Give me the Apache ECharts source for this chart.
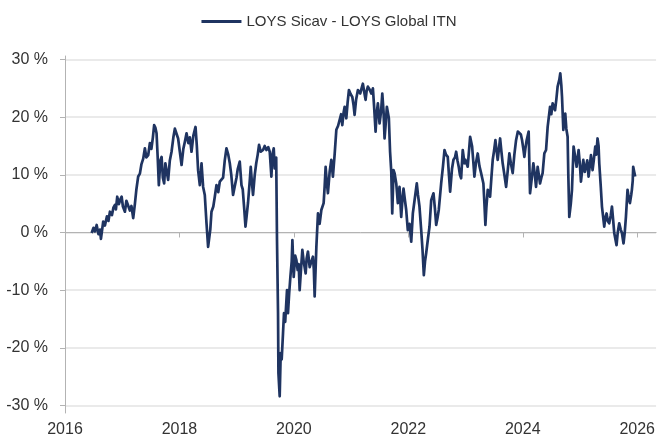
<!DOCTYPE html>
<html>
<head>
<meta charset="utf-8">
<script src="https://cdn.jsdelivr.net/npm/echarts@6/dist/echarts.min.js"></script>
<style>
html,body{margin:0;padding:0;background:#fff;}
#chart{width:658px;height:438px;}
</style>
</head>
<body>
<div id="chart"></div>
<script>
var seriesName = 'LOYS Sicav - LOYS Global ITN';
var yTickValues = [-30, -20, -10, 0, 10, 20, 30];
var xTickValues = [2016, 2018, 2020, 2022, 2024, 2026];

// decimal years
var dates = [
2016.466,2016.497,2016.524,2016.553,2016.585,2016.611,2016.628,2016.668,2016.698,2016.733,
2016.759,2016.785,2016.820,2016.846,2016.873,2016.890,2016.913,2016.942,2016.969,2016.990,
2017.012,2017.047,2017.073,2017.105,2017.134,2017.161,2017.192,2017.222,2017.248,2017.279,
2017.309,2017.335,2017.367,2017.396,2017.422,2017.454,2017.483,2017.510,2017.536,2017.558,
2017.579,2017.600,2017.620,2017.640,2017.667,2017.688,2017.710,2017.733,2017.754,2017.775,
2017.803,2017.832,2017.862,2017.894,2017.920,2017.946,2017.977,2018.007,2018.037,2018.068,
2018.094,2018.124,2018.155,2018.182,2018.211,2018.243,2018.281,2018.304,2018.326,2018.356,
2018.386,2018.414,2018.443,2018.473,2018.501,2018.513,2018.539,2018.560,2018.592,2018.618,
2018.647,2018.679,2018.705,2018.735,2018.763,2018.792,2018.822,2018.853,2018.880,2018.906,
2018.937,2018.967,2018.997,2019.019,2019.054,2019.084,2019.106,2019.133,2019.154,2019.176,
2019.199,2019.229,2019.246,2019.264,2019.286,2019.316,2019.342,2019.368,2019.391,2019.421,
2019.461,2019.490,2019.520,2019.552,2019.578,2019.607,2019.625,2019.648,2019.665,2019.691,
2019.705,2019.723,2019.730,2019.752,2019.770,2019.787,2019.810,2019.827,2019.848,2019.880,
2019.897,2019.918,2019.939,2019.962,2019.974,2019.997,2020.023,2020.044,2020.066,2020.084,
2020.101,2020.127,2020.148,2020.171,2020.206,2020.223,2020.246,2020.276,2020.293,2020.333,
2020.349,2020.363,2020.393,2020.421,2020.450,2020.480,2020.520,2020.538,2020.555,2020.572,
2020.595,2020.625,2020.654,2020.682,2020.712,2020.742,2020.773,2020.799,2020.825,2020.846,
2020.869,2020.887,2020.916,2020.939,2020.962,2020.991,2021.021,2021.044,2021.061,2021.087,
2021.119,2021.160,2021.183,2021.206,2021.227,2021.253,2021.271,2021.293,2021.323,2021.353,
2021.381,2021.401,2021.428,2021.445,2021.468,2021.497,2021.524,2021.545,2021.567,2021.585,
2021.602,2021.625,2021.660,2021.681,2021.702,2021.719,2021.742,2021.759,2021.789,2021.817,
2021.846,2021.876,2021.899,2021.916,2021.942,2021.963,2021.991,2022.021,2022.051,2022.079,
2022.108,2022.148,2022.169,2022.195,2022.225,2022.248,2022.271,2022.292,2022.312,2022.344,
2022.370,2022.400,2022.440,2022.466,2022.487,2022.510,2022.532,2022.574,2022.606,2022.632,
2022.658,2022.689,2022.710,2022.731,2022.763,2022.789,2022.815,2022.836,2022.859,2022.881,
2022.902,2022.923,2022.951,2022.981,2022.998,2023.038,2023.080,2023.115,2023.138,2023.155,
2023.181,2023.213,2023.243,2023.272,2023.312,2023.330,2023.347,2023.365,2023.388,2023.429,
2023.452,2023.475,2023.496,2023.522,2023.539,2023.562,2023.604,2023.627,2023.649,2023.679,
2023.709,2023.740,2023.766,2023.792,2023.824,2023.853,2023.883,2023.914,2023.941,2023.967,
2023.988,2024.010,2024.028,2024.045,2024.068,2024.103,2024.115,2024.127,2024.159,2024.185,
2024.211,2024.232,2024.260,2024.302,2024.325,2024.347,2024.377,2024.407,2024.435,2024.477,
2024.499,2024.522,2024.564,2024.586,2024.609,2024.639,2024.656,2024.674,2024.686,2024.709,
2024.726,2024.743,2024.761,2024.784,2024.796,2024.813,2024.840,2024.860,2024.888,2024.918,
2024.941,2024.976,2024.997,2025.017,2025.040,2025.058,2025.084,2025.105,2025.127,2025.150,
2025.192,2025.220,2025.241,2025.267,2025.285,2025.307,2025.325,2025.337,2025.363,2025.384,
2025.407,2025.424,2025.442,2025.465,2025.485,2025.511,2025.538,2025.559,2025.581,2025.599,
2025.616,2025.639,2025.660,2025.686,2025.712,2025.733,2025.761,2025.782,2025.803,2025.831,
2025.852,2025.873,2025.895,2025.907,2025.922,2025.930,2025.948,2025.965
];

// performance in %
var values = [
-0.1,0.8,0.2,1.3,-0.3,0.5,-1.1,1.9,1.2,2.8,
2.0,3.6,3.0,4.3,4.8,4.0,6.2,4.9,5.8,6.2,
4.5,3.6,5.5,5.3,3.8,4.6,2.5,5.0,7.5,9.7,
10.2,11.8,12.8,14.6,13.0,13.4,15.5,14.5,16.5,18.6,
18.2,17.2,13.0,8.2,12.5,13.1,9.5,8.5,12.0,11.7,
9.1,12.5,14.0,16.5,18.0,17.2,16.3,14.0,11.7,14.5,
15.7,17.2,15.5,16.5,14.0,16.8,18.3,15.0,10.8,8.2,
12.0,7.9,6.5,1.6,-2.5,-2.3,0.5,3.6,4.5,6.2,
8.2,7.0,8.8,9.1,9.5,12.5,14.6,13.5,12.0,10.0,
6.5,8.0,9.5,11.0,12.3,8.2,7.5,4.0,1.0,3.0,
5.2,9.0,11.4,9.0,6.5,10.0,12.0,13.5,15.2,14.0,
14.3,15.0,14.3,14.8,14.0,9.7,13.5,14.6,11.1,13.0,
-1.3,-14.0,-24.4,-28.4,-20.9,-22.0,-17.5,-14.0,-15.5,-10.0,
-14.0,-10.5,-7.7,-5.0,-1.3,-7.7,-4.0,-4.8,-6.5,-5.5,
-10.0,-6.0,-3.0,-5.0,-7.1,-4.5,-3.3,-6.0,-5.9,-4.2,
-6.5,-11.1,-2.5,3.3,1.5,3.9,5.1,8.0,11.4,9.0,
6.8,10.5,12.6,9.7,13.5,17.8,18.5,19.5,20.5,18.6,
20.8,21.8,19.8,22.5,24.7,24.0,23.5,22.0,20.4,23.0,
24.7,24.1,25.0,25.8,24.5,23.0,24.5,25.3,24.8,24.1,
25.0,22.0,17.5,20.5,22.4,18.9,21.0,24.1,21.0,16.3,
18.5,21.8,19.8,14.0,10.5,3.3,10.8,10.3,8.5,5.1,
7.9,2.7,6.0,7.6,5.5,3.9,0.4,1.5,-1.6,3.3,
5.5,8.5,6.5,4.5,0.4,-3.0,-7.4,-5.0,-3.6,-1.0,
1.0,5.6,6.8,4.0,1.3,2.5,3.9,8.5,11.5,14.3,
13.5,13.1,10.0,7.1,11.0,12.6,13.0,14.0,12.5,11.4,
10.0,9.4,14.3,12.0,12.6,11.4,16.6,14.9,12.0,9.7,
12.0,13.7,11.5,10.3,8.5,5.0,1.3,4.5,7.4,6.2,
9.5,12.6,14.0,16.0,14.5,12.6,16.3,14.0,12.0,10.0,
7.9,11.0,13.7,12.0,10.3,13.5,16.0,17.5,17.8,17.0,
16.0,14.5,13.1,14.5,16.0,17.5,12.0,6.8,9.5,12.0,
10.0,7.9,11.4,8.5,9.5,10.3,13.7,14.3,18.3,21.8,
20.5,22.4,21.2,23.0,25.3,26.5,27.6,25.5,23.5,17.8,
19.5,20.6,18.0,16.6,10.0,2.7,5.0,7.4,14.9,13.0,
11.4,14.3,12.0,8.8,11.0,12.6,10.5,11.4,12.5,9.7,
13.4,10.8,12.5,14.9,13.5,16.3,15.0,12.0,8.0,4.5,
2.5,1.0,2.5,3.3,2.0,1.6,3.0,4.5,2.0,-0.1,
-1.0,-2.2,0.0,1.6,0.5,-0.1,-1.9,0.0,2.7,7.4,
6.0,5.1,6.5,7.4,9.0,11.4,10.5,9.7
];

var seriesData = dates.map(function (d, i) { return [d, values[i]]; });

var chart = echarts.init(document.getElementById('chart'), null, {renderer: 'canvas'});
var textColor = '#333333';
var fontFamily = '"Liberation Sans", Arial, sans-serif';

chart.setOption({
  animation: false,
  backgroundColor: '#ffffff',
  textStyle: {fontFamily: fontFamily},
  legend: {
    show: true,
    left: 'center',
    top: 9,
    icon: 'rect',
    itemWidth: 40,
    itemHeight: 3,
    itemGap: 10,
    textStyle: {color: textColor, fontSize: 15, fontFamily: fontFamily},
    data: [seriesName]
  },
  grid: {left: 65, right: 1, top: 56, bottom: 25, containLabel: false},
  xAxis: {
    type: 'value',
    min: 2016,
    max: 2026.33,
    axisLine: {show: true, lineStyle: {color: '#b3b3b3', width: 1}},
    axisTick: {show: true, length: 5, lineStyle: {color: '#b3b3b3'}, customValues: xTickValues},
    axisLabel: {color: textColor, fontSize: 16, margin: 9, customValues: xTickValues,
      formatter: function (v) { return String(Math.round(v)); }},
    splitLine: {show: false}
  },
  yAxis: {
    type: 'value',
    min: -31.3,
    max: 30.6,
    axisLine: {show: true, lineStyle: {color: '#b3b3b3', width: 1}},
    axisTick: {show: true, length: 5, lineStyle: {color: '#b3b3b3'}, customValues: yTickValues},
    axisLabel: {color: textColor, fontSize: 16, margin: 17, customValues: yTickValues,
      formatter: function (v) { return Math.round(v) + ' %'; }},
    splitLine: {show: true, lineStyle: {color: '#e3e3e3', width: 1.5}}
  },
  series: [{
    name: seriesName,
    type: 'line',
    data: seriesData,
    showSymbol: false,
    symbol: 'none',
    smooth: false,
    lineStyle: {color: '#1f3461', width: 2.7, join: 'round'},
    itemStyle: {color: '#1f3461'}
  }]
});
</script>
</body>
</html>
